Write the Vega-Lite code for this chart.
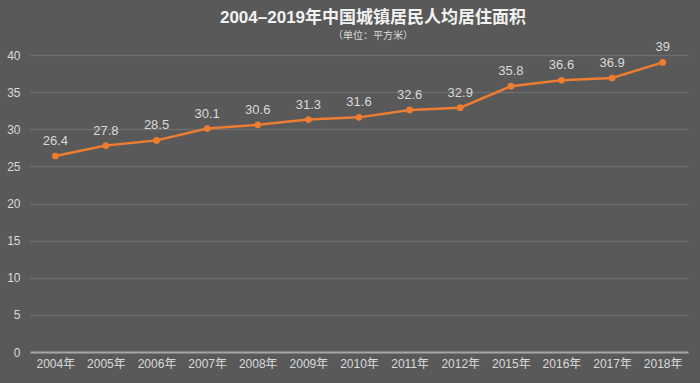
{
  "$schema": "https://vega.github.io/schema/vega-lite/v6.json",
  "autosize": "none",
  "width": 658,
  "height": 297,
  "padding": {"left": 30, "top": 55, "right": 12, "bottom": 31},
  "background": "#595959",
  "config": {
    "view": {"stroke": null},
    "font": "Liberation Sans, Noto Sans CJK SC"
  },
  "title": {
    "text": "2004–2019年中国城镇居民人均居住面积",
    "subtitle": "（单位：平方米）",
    "anchor": "middle",
    "dx": 14,
    "offset": -1,
    "fontSize": 17,
    "fontWeight": "bold",
    "color": "#f2f2f2",
    "font": "Liberation Sans, Noto Sans CJK SC",
    "subtitleFontSize": 10,
    "subtitleColor": "#d9d9d9",
    "subtitleFont": "Noto Sans CJK SC",
    "subtitlePadding": 4
  },
  "data": {
    "values": [
      {"year": "2004年", "area": 26.4},
      {"year": "2005年", "area": 27.8},
      {"year": "2006年", "area": 28.5},
      {"year": "2007年", "area": 30.1},
      {"year": "2008年", "area": 30.6},
      {"year": "2009年", "area": 31.3},
      {"year": "2010年", "area": 31.6},
      {"year": "2011年", "area": 32.6},
      {"year": "2012年", "area": 32.9},
      {"year": "2015年", "area": 35.8},
      {"year": "2016年", "area": 36.6},
      {"year": "2017年", "area": 36.9},
      {"year": "2018年", "area": 39}
    ]
  },
  "encoding": {
    "x": {
      "field": "year",
      "type": "nominal",
      "sort": null,
      "scale": {"paddingInner": 0, "paddingOuter": 0},
      "axis": {
        "title": null,
        "labelAngle": 0,
        "labelColor": "#d9d9d9",
        "labelFontSize": 12,
        "labelPadding": 6,
        "ticks": false,
        "domainColor": "#a6a6a6",
        "domainWidth": 2,
        "grid": false
      }
    },
    "y": {
      "field": "area",
      "type": "quantitative",
      "scale": {"domain": [0, 40], "nice": false},
      "axis": {
        "title": null,
        "values": [0, 5, 10, 15, 20, 25, 30, 35, 40],
        "labelColor": "#d9d9d9",
        "labelFontSize": 12,
        "labelPadding": 10,
        "ticks": false,
        "domain": false,
        "gridColor": "#6e6e6e",
        "gridWidth": 1.5
      }
    }
  },
  "layer": [
    {
      "mark": {"type": "line", "color": "#ed7d31", "strokeWidth": 2.5}
    },
    {
      "mark": {"type": "point", "filled": true, "color": "#ed7d31", "size": 45, "opacity": 1}
    },
    {
      "mark": {"type": "text", "dy": -15, "color": "#d9d9d9", "fontSize": 13},
      "encoding": {"text": {"field": "area", "type": "quantitative"}}
    }
  ]
}
